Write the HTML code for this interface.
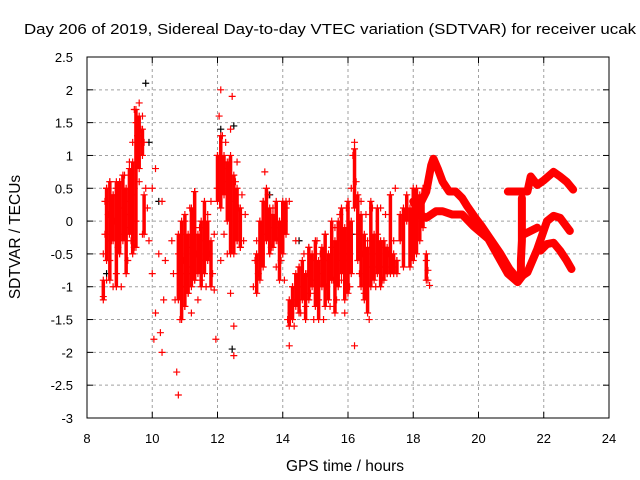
<!DOCTYPE html>
<html><head><meta charset="utf-8"><style>
body{margin:0;background:#fff;}
svg{display:block;font-family:"Liberation Sans",sans-serif;}
</style></head><body>
<svg id="chart" width="640" height="480">
<rect width="640" height="480" fill="#fff"/>
<text x="330" y="34" font-size="15" textLength="612" lengthAdjust="spacingAndGlyphs" text-anchor="middle">Day 206 of 2019, Sidereal Day-to-day VTEC variation (SDTVAR) for receiver ucak</text>
<text x="345" y="471" font-size="15.5" text-anchor="middle">GPS time / hours</text>
<text x="20" y="237" font-size="15.5" text-anchor="middle" transform="rotate(-90 20 237)">SDTVAR / TECUs</text>
<g id="grid"></g><g id="marks"></g><g id="axes"></g>
</svg>
<script>
const xTicks=[8,10,12,14,16,18,20,22,24];
const yTicks=[2.5,2,1.5,1,0.5,0,-0.5,-1,-1.5,-2,-2.5,-3];
const redPoints=[[8.5,-1.15],[8.5,-0.5],[8.55,-0.2],[8.55,0.3],[8.6,0.5],[8.6,-0.9],[8.65,0.1],[8.7,0.6],[8.7,-0.6],[8.75,-0.3],[8.8,0.4],[8.8,-1.0],[8.85,0.0],[8.9,0.5],[8.9,-0.8],[8.95,-0.4],[9.0,0.6],[9.0,0.2],[9.05,-1.0],[9.1,-0.2],[9.1,0.5],[9.15,0.7],[9.2,-0.1],[9.2,0.3],[9.25,-0.6],[9.3,0.9],[9.3,0.1],[9.35,-0.3],[9.4,1.2],[9.4,0.4],[9.45,1.7],[9.45,-0.4],[9.5,1.5],[9.5,0.0],[9.55,1.3],[9.6,1.8],[9.6,0.6],[9.65,1.4],[9.7,1.6],[9.7,-0.2],[9.75,1.2],[9.8,0.5],[9.85,0.2],[9.9,-0.3],[10.0,-0.8],[10.0,0.5],[10.05,-1.8],[10.1,0.8],[10.1,-1.4],[10.2,-0.5],[10.25,-1.7],[10.3,-2.0],[10.3,0.3],[10.35,-1.2],[10.4,-0.6],
[10.6,-0.3],[10.65,-0.8],[10.7,-1.2],[10.75,-2.3],[10.8,-2.65],[10.8,-0.5],[10.85,-1.5],[10.9,-0.2],[10.9,-1.0],[10.95,-0.6],[11.0,-1.3],[11.0,0.0],[11.05,-0.8],[11.1,-0.4],[11.1,-1.1],[11.15,0.2],[11.2,-0.7],[11.2,-1.4],[11.25,-0.2],[11.3,-0.9],[11.3,0.45],[11.35,-0.5],[11.4,-1.2],[11.45,-0.1],[11.5,-0.6],[11.5,-0.9],[11.6,-0.3],[11.65,-1.0],[11.7,0.1],[11.75,-0.5],[11.8,0.3],[11.85,-0.8],[11.9,-0.2],[11.9,-1.05],[11.95,-1.8],[12.0,0.5],[12.0,1.0],[12.05,1.6],[12.1,2.0],[12.1,-0.6],[12.15,1.3],[12.2,0.8],[12.2,-0.2],[12.25,1.2],[12.3,0.6],[12.3,-0.5],[12.35,0.9],[12.4,1.4],[12.4,-1.1],[12.45,1.9],[12.5,0.3],[12.5,-1.6],[12.5,-2.05],[12.55,0.6],[12.6,-0.3],[12.6,0.9],[12.65,0.2],[12.7,-0.4],[12.75,0.4],[12.8,-0.3],[12.85,0.1],
[13.1,-1.0],[13.15,-0.6],[13.2,-0.3],[13.25,-0.8],[13.3,0.0],[13.35,-0.5],[13.4,0.3],[13.45,0.75],[13.5,-0.2],[13.55,0.4],[13.6,0.1],[13.65,-0.4],[13.7,0.2],[13.75,-0.1],[13.8,-0.7],[13.85,-0.3],[13.9,0.0],[13.95,-0.6],[14.0,-0.2],[14.05,-0.9],[14.1,0.2],[14.15,-1.5],[14.2,-1.9],[14.2,0.3],[14.25,-1.4],[14.3,-1.0],[14.35,-1.6],[14.4,-0.3],[14.45,-1.2],[14.5,-0.7],[14.55,-1.4],[14.6,-1.0],[14.65,-0.5],[14.7,-1.3],[14.75,-0.8],[14.8,-0.4],[14.85,-1.1],[14.9,-0.6],[14.95,-1.5],[15.0,-0.9],[15.05,-0.3],[15.1,-1.2],[15.15,-0.5],[15.2,-0.8],[15.25,-1.5],[15.3,-0.2],[15.35,-1.0],[15.4,-0.6],[15.45,-1.3],[15.5,-0.4],[15.55,-0.9],[15.6,-0.1],[15.65,-1.2],[15.7,-0.6],[15.75,0.1],[15.8,-0.9],[15.85,-0.3],[15.9,-1.4],[15.95,0.2],[16.0,-0.6],[16.05,-1.0],[16.1,0.5],[16.15,1.0],[16.2,1.2],[16.2,-1.9],[16.25,0.6],[16.3,-0.2],[16.35,-0.8],[16.4,0.3],[16.45,-0.5],[16.5,-1.1],[16.55,0.1],[16.6,-0.3],[16.65,-1.5],[16.7,-0.7],[16.75,0.2],[16.8,-0.5],[16.85,-1.0],[16.9,-0.2],[16.95,-0.7],[17.0,0.2],[17.05,-0.9],[17.1,-0.4],[17.15,0.1],[17.2,-0.8],[17.25,-0.5],[17.3,0.4],[17.35,-0.7],[17.4,-0.3],[17.45,0.5],[17.5,-0.6],[18.4,-0.6],[18.45,-0.75],[18.45,-0.9],[18.5,-0.98]];
const blackPoints=[[8.6,-0.8],[9.8,2.1],[9.9,1.2],[10.2,0.3],[11.0,-1.0],[12.1,1.4],[12.45,-1.95],[12.5,1.45],[13.6,0.4],[14.5,-0.3],[15.9,-0.5],[16.1,-0.2]];
const spanHours=[8.5,8.6,8.7,8.8,8.9,9.0,9.1,9.2,9.3,9.4,9.5,9.6,9.7,9.75,10.8,10.9,11.0,11.1,11.2,11.3,11.4,11.5,11.6,11.7,11.8,12.0,12.1,12.2,12.3,12.4,12.5,12.6,12.7,13.2,13.3,13.4,13.5,13.6,13.7,13.8,13.9,14.0,14.1,14.2,14.3,14.4,14.5,14.6,14.7,14.8,14.9,15.0,15.1,15.2,15.3,15.4,15.5,15.6,15.7,15.8,15.9,16.0,16.1,16.2,16.3,16.4,16.5,16.6,16.7,16.8,16.9,17.0,17.1,17.2,17.3,17.4,17.5,17.6,17.7,17.8,17.9,18.0,18.1,18.2,18.3,18.4];
const spanLow=[-1.2,-0.6,-0.9,-0.3,-1.0,-0.5,-0.3,-0.8,-0.2,-0.5,-0.4,0.8,1.0,-0.2,-1.2,-1.5,-1.3,-1.1,-1.0,-0.9,-0.8,-1.0,-0.8,-0.6,-1.0,0.3,0.2,0.4,0.0,-0.5,-0.5,-0.3,-0.4,-1.1,-0.9,-0.7,-0.3,-0.5,-0.4,-0.3,-0.9,-0.5,-0.2,-1.6,-1.5,-1.3,-1.4,-1.2,-1.5,-1.2,-1.0,-1.3,-1.5,-1.0,-1.3,-1.2,-0.9,-1.4,-1.0,-0.8,-1.2,-1.1,-0.8,0.2,-0.6,-1.0,-1.2,-1.4,-1.0,-0.9,-0.8,-1.0,-0.9,-0.8,-0.8,-0.8,-0.8,-0.3,-0.7,0.0,-0.7,-0.6,-0.5,-0.3,-0.1,-0.9];
const spanHigh=[-0.9,0.5,0.6,0.4,0.6,0.6,0.7,0.5,0.8,0.9,1.7,1.6,1.4,0.4,-0.2,0.0,0.1,-0.2,0.2,0.45,-0.2,0.0,0.3,0.0,-0.3,1.0,1.3,1.0,0.9,1.0,0.7,0.5,0.2,-0.5,0.0,0.3,0.5,0.2,0.1,0.3,0.0,0.3,0.3,-1.2,-1.0,-0.8,-0.7,-0.6,-0.8,-0.4,-0.5,-0.3,-0.6,-0.4,-0.2,-0.5,0.0,-0.3,0.0,0.2,-0.1,0.3,0.0,1.1,0.4,0.1,-0.2,-0.4,0.3,-0.2,0.2,-0.3,-0.3,-0.4,0.4,-0.5,-0.6,0.1,0.2,0.4,0.2,0.5,0.5,0.4,0.5,-0.5];
const trails=[
[[18.0,0.0],[18.2,0.25],[18.4,0.45],[18.55,0.85],[18.62,0.95],[18.75,0.8],[18.9,0.6],[19.1,0.45],[19.3,0.45],[19.5,0.35],[19.65,0.23],[19.9,0.05],[20.1,-0.08],[20.4,-0.3],[20.65,-0.48],[20.95,-0.73],[21.2,-0.88],[21.5,-0.78],[21.8,-0.43],[22.1,0.0],[22.3,0.08],[22.5,0.05],[22.65,-0.05],[22.8,-0.15]],
[[18.0,0.3],[18.2,0.1],[18.4,0.05],[18.7,0.15],[18.9,0.15],[19.2,0.1],[19.5,0.1],[19.85,-0.08],[20.3,-0.27],[20.65,-0.58],[20.9,-0.8],[21.2,-0.93],[21.4,-0.8]],
[[20.9,0.45],[21.2,0.45],[21.5,0.45],[21.6,0.68],[21.8,0.55],[22.0,0.62],[22.3,0.75],[22.5,0.68],[22.7,0.6],[22.9,0.48]],
[[21.33,0.35],[21.33,0.0],[21.33,-0.3],[21.3,-0.6],[21.3,-0.85]],
[[21.4,-0.2],[21.6,-0.15],[21.8,-0.1]],
[[21.9,-0.45],[22.1,-0.35],[22.3,-0.33],[22.5,-0.45],[22.7,-0.6],[22.85,-0.73]]];
const X0=87,X1=609,Y0=57,Y1=418;
const xs=h=>X0+(h-8)/(24-8)*(X1-X0);
const ys=v=>Y1-(v+3)/5.5*(Y1-Y0);
const NS='http://www.w3.org/2000/svg';
const grid=document.getElementById('grid'),marks=document.getElementById('marks'),axes=document.getElementById('axes');
function mk(tag,attrs,parent){const e=document.createElementNS(NS,tag);for(const k in attrs)e.setAttribute(k,attrs[k]);parent.appendChild(e);return e;}
xTicks.forEach(t=>{const x=xs(t);
 if(t>8&&t<24){const g=mk('line',{x1:x,x2:x,y1:Y0,y2:Y1,stroke:'#a0a0a0','stroke-dasharray':'3,3'},grid);}
 mk('line',{x1:x,x2:x,y1:Y1,y2:Y1-6,stroke:'#000'},axes);mk('line',{x1:x,x2:x,y1:Y0,y2:Y0+6,stroke:'#000'},axes);
 const l=mk('text',{x:x,y:443,'font-size':13,'text-anchor':'middle'},axes);l.textContent=t;
 
 });
yTicks.forEach(t=>{const y=ys(t);
 if(t<2.5&&t>-3){const g=mk('line',{x1:X0,x2:X1,y1:y,y2:y,stroke:'#a0a0a0','stroke-dasharray':'3,3'},grid);}
 mk('line',{x1:X0,x2:X0+6,y1:y,y2:y,stroke:'#000'},axes);mk('line',{x1:X1,x2:X1-6,y1:y,y2:y,stroke:'#000'},axes);
 const l=mk('text',{x:73,y:y+5,'font-size':13,'text-anchor':'end'},axes);l.textContent=t;
 
 });
const fr=mk('rect',{x:X0,y:Y0,width:X1-X0,height:Y1-Y0,fill:'none',stroke:'#000'},axes);


function plus(h,v,c){const x=xs(h),y=ys(v);const p=mk('path',{d:`M${x-3.5},${y}h7M${x},${y-3.5}v7`,stroke:c,'stroke-width':1.2},marks);
 
 }
function band(pts,w){const d=pts.map((p,i)=>(i?'L':'M')+xs(p[0])+','+ys(p[1])).join('');
 const e=mk('path',{d:d,stroke:'#ff0000','stroke-width':w,fill:'none','stroke-linejoin':'round','stroke-linecap':'round'},marks);
 
 
 pts.forEach(p=>plus(p[0],p[1],'#ff0000'));}
blackPoints.forEach(p=>plus(p[0],p[1],'#000'));
spanHours.forEach((h,i)=>{const x=xs(h);
 const s=mk('line',{x1:x,x2:x,y1:ys(spanLow[i]),y2:ys(spanHigh[i]),stroke:'#ff0000','stroke-width':3.5},marks);
 
 
 plus(h,spanLow[i],'#ff0000');plus(h,spanHigh[i],'#ff0000');});
trails.forEach(t=>band(t,8));
redPoints.forEach(p=>plus(p[0],p[1],'#ff0000'));
</script>
</body></html>
